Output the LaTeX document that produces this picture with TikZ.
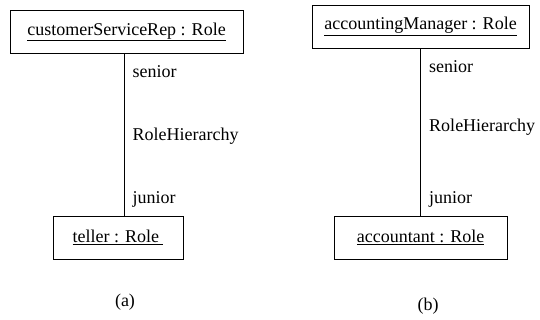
\documentclass[tikz,border=0pt]{standalone}
\usepackage{fontspec}
\setmainfont{Liberation Serif}
\usetikzlibrary{positioning}

\begin{document}
\begin{tikzpicture}[x=1pt, y=-1pt, line width=0.8pt,
  every node/.style={font=\fontsize{18}{20}\selectfont},
  rolebox/.style={draw, inner sep=0pt, minimum height=43},
  rolelabel/.style={anchor=west, xshift=5}]
\useasboundingbox (0,0) rectangle (540,320);
%%%%% (a) %%%%%
\node[rolebox, minimum width=233] (csr) at (126.5,32) {\underline{customerServiceRep : Role}};
\node[rolebox, minimum width=130] (teller) at (118,237.5) {\underline{teller : Role\ }};
\draw ([xshift=-2.5]csr.south) -- ([xshift=-2.5]csr.south |- teller.north)
  node[rolelabel, pos=0.11] {senior}
  node[rolelabel, pos=0.51] {RoleHierarchy}
  node[rolelabel, pos=0.9] {junior};
\node (capa) at (125,302) {(a)};
%%%%% (b) %%%%%
\node[rolebox, minimum width=217] (am) at (420.5,26.5) {\underline{accountingManager : Role}};
\node[rolebox, minimum width=173] (acc) at (420.5,237.5) {\underline{accountant : Role}};
\draw (am.south) -- (am.south |- acc.north)
  node[rolelabel, pos=0.107] {senior}
  node[rolelabel, pos=0.47] {RoleHierarchy}
  node[rolelabel, pos=0.905] {junior};
\node (capb) at (428,306) {(b)};
\end{tikzpicture}
\end{document}
